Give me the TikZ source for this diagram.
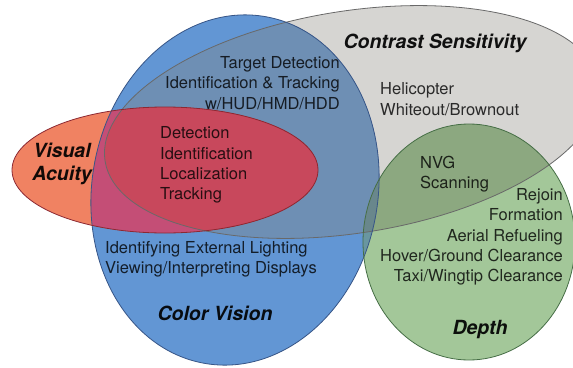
\documentclass[tikz,border=0pt]{standalone}
\usepackage{fontspec}
\setmainfont{TeX Gyre Heros}
\definecolor{cGray}{RGB}{214,213,210}
\definecolor{cBlue}{RGB}{98,150,212}
\definecolor{cBlueGray}{RGB}{110,143,180}
\definecolor{cGreen}{RGB}{163,199,153}
\definecolor{cGrayGreen}{RGB}{140,168,128}
\definecolor{cBlueGreen}{RGB}{105,150,160}
\definecolor{cBGG}{RGB}{105,135,140}
\definecolor{cOrange}{RGB}{240,130,98}
\definecolor{cRose}{RGB}{196,78,118}
\definecolor{cDeepRed}{RGB}{200,72,92}
\definecolor{cRedGray}{RGB}{205,85,105}
\definecolor{lGray}{RGB}{105,105,105}
\definecolor{lBlue}{RGB}{55,85,135}
\definecolor{lRed}{RGB}{140,40,50}
\definecolor{lGreen}{RGB}{70,110,70}
\newcommand\grayP[1]{\path[#1,rotate around={9:(352,122)}] (352,122) ellipse [x radius=250, y radius=111];}
\newcommand\blueP[1]{\path[#1,rotate around={-10:(235,190)}] (235,190) ellipse [x radius=143, y radius=176];}
\newcommand\redP[1]{\path[#1] (165,170) ellipse [x radius=153, y radius=63];}
\newcommand\greenP[1]{\path[#1] (469,242) ellipse [x radius=106, y radius=118];}
\tikzset{
  body/.style={font=\fontsize{16.5}{20.3}\selectfont, text opacity=0.8, inner sep=0pt},
  ttl/.style={font=\fontsize{19.5}{23}\selectfont\bfseries\itshape, text opacity=0.92, inner sep=0pt},
  outl/.style={draw=#1, line width=0.8pt}
}
\begin{document}
\begin{tikzpicture}[x=1pt,y=-1pt]
\useasboundingbox (0,0) rectangle (573,367);
\fill[white] (0,0) rectangle (573,367);
% region fills
\grayP{fill=cGray}
\blueP{fill=cBlue}
\begin{scope}\blueP{clip}\grayP{fill=cBlueGray}\end{scope}
\greenP{fill=cGreen}
\begin{scope}\greenP{clip}\grayP{fill=cGrayGreen}\end{scope}
\begin{scope}\greenP{clip}\blueP{fill=cBlueGreen}\end{scope}
\begin{scope}\greenP{clip}\blueP{clip}\grayP{fill=cBGG}\end{scope}
\redP{fill=cOrange}
\begin{scope}\redP{clip}\grayP{fill=cRedGray}\end{scope}
\begin{scope}\redP{clip}\blueP{fill=cRose}\end{scope}
\begin{scope}\redP{clip}\blueP{clip}\grayP{fill=cDeepRed}\end{scope}
% outlines
\grayP{outl=lGray}
\blueP{outl=lBlue}
\greenP{outl=lGreen}
\redP{outl=lRed}
% texts
\node[body, anchor=east, align=right] (tgt) at (340,83) {Target Detection\\Identification \& Tracking\\w/HUD/HMD/HDD};
\node[body, anchor=west, align=left] (heli) at (380,99) {Helicopter\\Whiteout/Brownout};
\node[ttl] (cs) at (435,43) {Contrast Sensitivity};
\node[ttl, align=center] (va) at (62,164) {Visual\\Acuity};
\node[body, anchor=west, align=left] (det) at (160,165) {Detection\\Identification\\Localization\\Tracking};
\node[body, anchor=west, align=left] (ext) at (105,259) {Identifying External Lighting\\Viewing/Interpreting Displays};
\node[ttl] (cv) at (215,313) {Color Vision};
\node[body, anchor=west, align=left] (nvg) at (420,174) {NVG\\Scanning};
\node[body, anchor=east, align=right] (dep) at (563,237) {Rejoin\\Formation\\Aerial Refueling\\Hover/Ground Clearance\\Taxi/Wingtip Clearance};
\node[ttl] (depth) at (480,330) {Depth};
\end{tikzpicture}
\end{document}
